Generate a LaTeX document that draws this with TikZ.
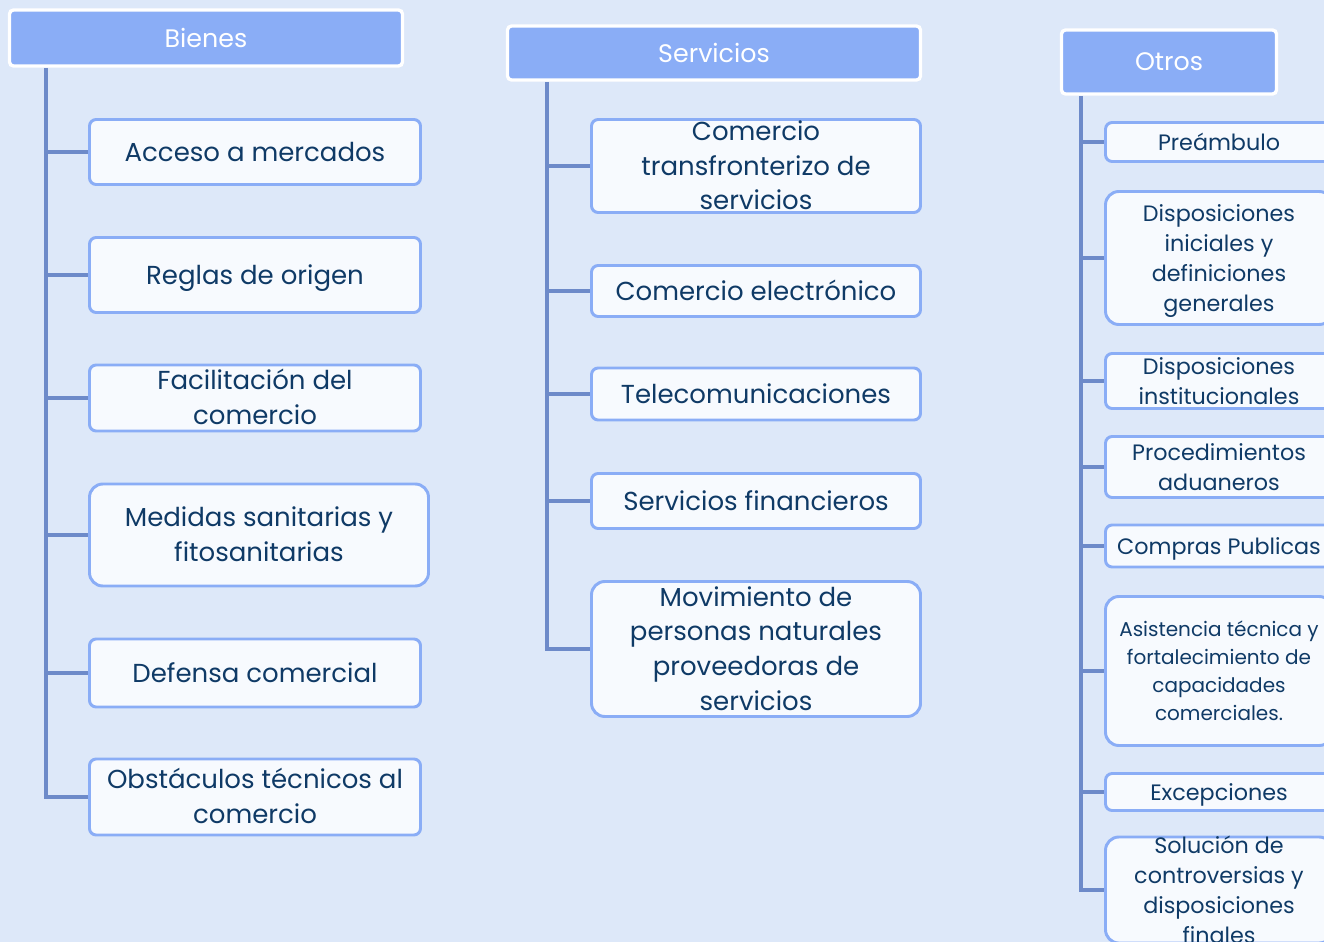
\documentclass[tikz,border=0pt]{standalone}
\usepackage{fontspec}
\setmainfont{Poppins}
\usetikzlibrary{backgrounds}
\definecolor{pageBlue}{HTML}{DDE8F9}
\definecolor{headBlue}{HTML}{8AADF6}
\definecolor{boxBlue}{HTML}{8AADF6}
\definecolor{boxWhite}{HTML}{F7FAFE}
\definecolor{trunkBlue}{HTML}{6D8AC9}
\definecolor{inkNavy}{HTML}{0F3A66}
\newcommand\Lines[1]{\raisebox{-.35em}[0pt][0pt]{\begin{tabular}{@{}c@{}}#1\end{tabular}}}
\tikzset{
  boxsize/.style 2 args={minimum width=#1*.75pt,minimum height=#2*.75pt},
  head/.style={fill=headBlue,draw=white,line width=2.5pt,rounded corners=3pt,
    text=white,inner sep=0pt,font=\fontsize{19}{22}\selectfont},
  topic/.style={fill=boxWhite,draw=boxBlue,line width=2.2pt,rounded corners=5pt,
    text=inkNavy,inner sep=0pt},
  tall/.style={rounded corners=10pt},
  bigtext/.style={font=\fontsize{19.5}{26}\selectfont},
  midtext/.style={font=\fontsize{16.7}{22.5}\selectfont},
  smalltext/.style={font=\fontsize{15}{21}\selectfont},
  link/.style={draw=trunkBlue,line width=3pt},
}

\begin{document}
\begin{tikzpicture}[x=.75pt,y=-.75pt]
\useasboundingbox (0,0) rectangle (1324,942);
\clip (0,0) rectangle (1324,942);

% Bienes
\node[head,boxsize={393}{56}] (bienes) at (206,38) {Bienes};
\node[topic,bigtext,boxsize={331}{65}] (bAcc) at (255,152) {\Lines{Acceso a mercados}};
\node[topic,bigtext,boxsize={331}{75}] (bReg) at (255,275) {\Lines{Reglas de origen}};
\node[topic,bigtext,boxsize={331}{66}] (bFac) at (255,398) {\Lines{Facilitación del\\comercio}};
\node[topic,bigtext,tall,boxsize={339}{102}] (bMed) at (259,535) {\Lines{Medidas sanitarias y\\fitosanitarias}};
\node[topic,bigtext,boxsize={331}{68}] (bDef) at (255,673) {\Lines{Defensa comercial}};
\node[topic,bigtext,boxsize={331}{76}] (bObs) at (255,797) {\Lines{Obstáculos técnicos al\\comercio}};

% Servicios
\node[head,boxsize={413}{54}] (servicios) at (714,53) {Servicios};
\node[topic,bigtext,boxsize={329}{93}] (sCom) at (756,166) {\Lines{Comercio\\transfronterizo de\\servicios}};
\node[topic,bigtext,boxsize={329}{51}] (sEle) at (756,291) {\Lines{Comercio electrónico}};
\node[topic,bigtext,boxsize={329}{52}] (sTel) at (756,394) {\Lines{Telecomunicaciones}};
\node[topic,bigtext,boxsize={329}{55}] (sFin) at (756,501) {\Lines{Servicios financieros}};
\node[topic,bigtext,tall,boxsize={329}{135}] (sMov) at (756,649) {\Lines{Movimiento de\\personas naturales\\proveedoras de\\servicios}};

% Otros
\node[head,boxsize={215}{64}] (otros) at (1169,62) {Otros};
\node[topic,midtext,boxsize={227}{39}] (oPre) at (1219,142) {\Lines{Preámbulo}};
\node[topic,midtext,tall,boxsize={227}{133}] (oDis) at (1219,258) {\Lines{Disposiciones\\iniciales y\\definiciones\\generales}};
\node[topic,midtext,boxsize={227}{55}] (oIns) at (1219,381) {\Lines{Disposiciones\\institucionales}};
\node[topic,midtext,boxsize={227}{61}] (oPro) at (1219,467) {\Lines{Procedimientos\\aduaneros}};
\node[topic,midtext,boxsize={227}{42}] (oCom) at (1219,546) {\Lines{Compras Publicas}};
\node[topic,smalltext,tall,boxsize={227}{149}] (oAsi) at (1219,671) {\Lines{Asistencia técnica y\\fortalecimiento de\\capacidades\\comerciales.}};
\node[topic,midtext,boxsize={227}{37}] (oExc) at (1219,792) {\Lines{Excepciones}};
\node[topic,midtext,tall,boxsize={227}{106}] (oSol) at (1219,890) {\Lines{Solución de\\controversias y\\disposiciones\\finales}};

\begin{scope}[on background layer]
\fill[pageBlue] (0,0) rectangle (1324,942);
\coordinate (bT) at ([xshift=38.5*.75pt]bienes.south west);
\coordinate (sT) at ([xshift=41.5*.75pt]servicios.south west);
\coordinate (oT) at ([xshift=21.5*.75pt]otros.south west);
\draw[link] (bT) |- (bObs.west);
\foreach \c in {bAcc,bReg,bFac,bMed,bDef}
  \draw[link] (bT |- \c.west) -- (\c.west);
\draw[link] (sT) |- (sMov.west);
\foreach \c in {sCom,sEle,sTel,sFin}
  \draw[link] (sT |- \c.west) -- (\c.west);
\draw[link] (oT) |- (oSol.west);
\foreach \c in {oPre,oDis,oIns,oPro,oCom,oAsi,oExc}
  \draw[link] (oT |- \c.west) -- (\c.west);
\end{scope}
\end{tikzpicture}
\end{document}
